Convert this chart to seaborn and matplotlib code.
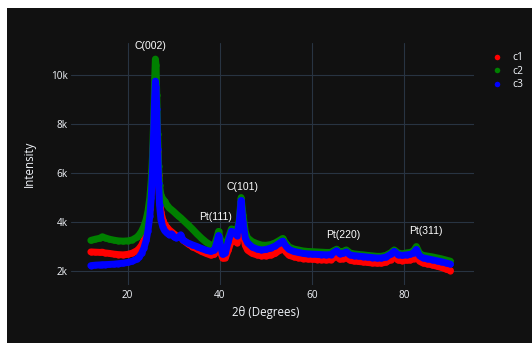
import numpy as np
import pandas as pd
import matplotlib
matplotlib.use("Agg")
import matplotlib.pyplot as plt
from matplotlib.patches import Rectangle
from matplotlib.lines import Line2D
import seaborn as sns

# ---------------- data ----------------
two_theta = [12, 13, 14, 14.5, 15, 16, 17, 18, 19, 20, 21, 22, 22.5, 23, 23.5, 24,
             24.4, 24.8, 25.1, 25.4, 25.6, 25.8, 26.0, 26.15, 26.3, 26.5, 26.7, 26.9,
             27.2, 27.6, 28, 28.5, 29, 29.5, 30, 30.5, 31, 31.5, 32, 33, 34, 35, 36,
             37, 38, 38.8, 39.3, 39.7, 40.1, 40.6, 41.2, 41.8, 42.5, 43.1, 43.7, 44.2,
             44.6, 45.0, 45.5, 46, 47, 48, 49, 50, 51, 52, 53, 53.6, 54.3, 55, 56, 57,
             58, 59, 60, 61, 62, 63, 64, 65.3, 66, 66.7, 67.4, 68.2, 69, 70, 71, 72,
             73, 74, 75, 76, 77, 77.8, 78.6, 79.5, 80.5, 81.3, 82, 82.6, 83.3, 84, 85,
             86, 87, 88, 89, 90]

c1 = [2780, 2770, 2760, 2770, 2740, 2720, 2690, 2670, 2660, 2680, 2730, 2830, 2920,
      3050, 3250, 3550, 3950, 4550, 5300, 6300, 7300, 8300, 8800, 8600, 8000, 6900,
      5900, 5000, 4400, 4100, 3900, 3780, 3680, 3600, 3520, 3450, 3400, 3380, 3260,
      3120, 3000, 2900, 2800, 2720, 2650, 2680, 2900, 3150, 2800, 2520, 2550, 2850,
      3250, 3280, 3150, 3550, 4300, 3600, 3050, 2850, 2720, 2660, 2620, 2620, 2650,
      2720, 2860, 2950, 2780, 2640, 2580, 2540, 2510, 2490, 2480, 2470, 2460, 2450,
      2460, 2600, 2480, 2500, 2560, 2440, 2410, 2390, 2370, 2350, 2330, 2320, 2320,
      2360, 2460, 2580, 2450, 2420, 2440, 2450, 2510, 2620, 2400, 2330, 2290, 2250,
      2200, 2150, 2080, 2020]

c2 = [3250, 3300, 3340, 3400, 3360, 3300, 3260, 3230, 3220, 3230, 3270, 3380, 3480,
      3620, 3820, 4100, 4450, 5000, 5700, 6800, 8000, 9600, 10650, 10400, 9200, 7600,
      6300, 5500, 5100, 4950, 4850, 4700, 4580, 4500, 4420, 4330, 4250, 4170, 4080,
      3900, 3720, 3520, 3340, 3180, 3060, 3050, 3350, 3620, 3300, 2980, 3000, 3350,
      3720, 3680, 3600, 4100, 5000, 4300, 3600, 3350, 3200, 3120, 3060, 3050, 3080,
      3150, 3260, 3330, 3130, 2980, 2900, 2860, 2820, 2800, 2790, 2780, 2770, 2760,
      2760, 2890, 2780, 2800, 2860, 2740, 2700, 2680, 2660, 2640, 2620, 2600, 2600,
      2640, 2740, 2860, 2740, 2700, 2740, 2760, 2820, 3000, 2720, 2640, 2610, 2580,
      2540, 2500, 2450, 2400]

c3 = [2220, 2240, 2250, 2260, 2260, 2270, 2280, 2300, 2320, 2350, 2400, 2490, 2580,
      2720, 2930, 3250, 3650, 4250, 5000, 6200, 7500, 8900, 9750, 9500, 8600, 7000,
      5600, 4700, 4100, 3800, 3650, 3550, 3480, 3520, 3400, 3350, 3380, 3480, 3260,
      3150, 3070, 3000, 2920, 2850, 2800, 2850, 3150, 3450, 3050, 2680, 2750, 3200,
      3620, 3550, 3450, 4000, 4880, 4000, 3350, 3150, 2980, 2900, 2860, 2880, 2940,
      3020, 3150, 3220, 3020, 2880, 2800, 2760, 2720, 2700, 2690, 2680, 2670, 2660,
      2670, 2830, 2700, 2720, 2780, 2660, 2630, 2610, 2590, 2570, 2550, 2530, 2530,
      2570, 2680, 2800, 2670, 2640, 2660, 2680, 2740, 2880, 2620, 2540, 2500, 2460,
      2420, 2380, 2330, 2280]

series_names = ["c1", "c2", "c3"]
series_colors = ["#ff0000", "#008000", "#0000ff"]

peak_labels = ["C(002)", "Pt(111)", "C(101)", "Pt(220)", "Pt(311)"]
peak_x = [25.0, 39.0, 45.0, 66.8, 84.6]
peak_y = [11180, 4220, 5420, 3470, 3650]

x_ticks = [20, 40, 60, 80]
y_ticks = [2000, 4000, 6000, 8000, 10000]
y_tick_labels = ["2k", "4k", "6k", "8k", "10k"]

# ---------------- style ----------------
BG = "#111111"
FG = "#f2f5fa"
GRID = "#283442"
sns.set_theme(style="dark", rc={"axes.facecolor": BG, "figure.facecolor": "white",
                                "axes.edgecolor": BG, "grid.color": GRID})
plt.rcParams["font.family"] = ["Open Sans", "DejaVu Sans"]

df = pd.DataFrame({"two_theta": two_theta * 3,
                   "intensity": c1 + c2 + c3,
                   "series": sum([[n] * len(two_theta) for n in series_names], [])})

fig = plt.figure(figsize=(5.32, 3.43), dpi=100)
fig.add_artist(Rectangle((7 / 532, 0), 1, (343 - 8) / 343, transform=fig.transFigure,
                         facecolor=BG, edgecolor="none", zorder=-5))
ax = fig.add_axes([71 / 532, 1 - 285 / 343, (474 - 71) / 532, (285 - 43) / 343])
ax.set_facecolor(BG)

for i, (name, col) in enumerate(zip(series_names, series_colors)):
    sub = df[df["series"] == name]
    sns.lineplot(data=sub, x="two_theta", y="intensity", ax=ax, color=col,
                 linewidth=5.0, marker="o", markersize=4.5, markeredgewidth=0,
                 solid_joinstyle="round", solid_capstyle="round",
                 estimator=None, sort=False, zorder=2 + i, legend=False)

for lab, xx, yy in zip(peak_labels, peak_x, peak_y):
    ax.text(xx, yy, lab, ha="center", va="center", color="white", fontsize=7.5,
            family=["Liberation Sans", "DejaVu Sans"], zorder=10)

ax.set_xlim(7.7, 95.1)
ax.set_ylim(1430, 11306)
ax.set_xticks(x_ticks)
ax.set_yticks(y_ticks)
ax.set_yticklabels(y_tick_labels)
ax.grid(True, color=GRID, linewidth=0.8)
ax.set_axisbelow(True)
for s in ax.spines.values():
    s.set_visible(False)
ax.tick_params(axis="both", length=0, colors=FG, labelsize=7.2)
ax.tick_params(axis="y", pad=2.5)
ax.tick_params(axis="x", pad=3.5)

ax.set_xlabel("2θ (Degrees)", color=FG, fontsize=8.3)
ax.set_ylabel("Intensity", color=FG, fontsize=8.3)
ax.xaxis.set_label_coords(0.484, -0.085)
ax.yaxis.set_label_coords(-0.088, 0.5)

handles = [Line2D([], [], ls="", marker="o", markersize=4, markeredgewidth=0, color=c)
           for c in series_colors]
fig.legend(handles, series_names, loc="upper left",
           bbox_to_anchor=(486 / 532, 1 - 47 / 343), bbox_transform=fig.transFigure,
           frameon=False, fontsize=7.5, labelcolor=FG, borderpad=0,
           handlelength=1.2, handletextpad=0.8, labelspacing=0.25)

fig.savefig("out.png", dpi=100, facecolor="white")
